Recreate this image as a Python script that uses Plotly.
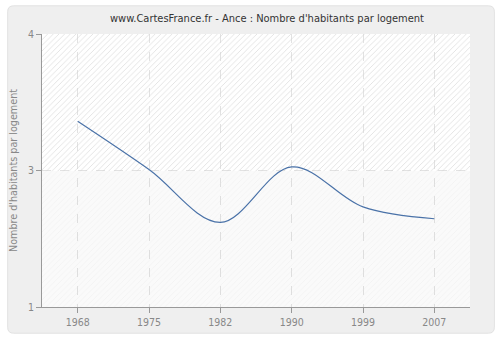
import plotly.graph_objects as go

years = ["1968", "1975", "1982", "1990", "1999", "2007"]
values = [3.04, 2.51, 1.93, 2.54, 2.10, 1.97]
ytick_vals = [1, 2.5, 4]
ytick_text = ["1", "3", "4"]
title = "www.CartesFrance.fr - Ance : Nombre d'habitants par logement"
ytitle = "Nombre d'habitants par logement"

W, H = 500, 340
ML, MR, MT, MB = 40, 30, 34, 30
PW, PH = W - ML - MR, H - MT - MB
FONT = "DejaVu Sans Condensed, DejaVu Sans, Verdana, sans-serif"

def px2paper(x, y):
    return (x - ML) / PW, (H - MB - y) / PH

def rounded_rect(x0, y0, x1, y1, r):
    def P(x, y):
        a, b = px2paper(x, y)
        return f"{a:.5f},{b:.5f}"
    return (f"M {P(x0 + r, y0)} L {P(x1 - r, y0)} Q {P(x1, y0)} {P(x1, y0 + r)} "
            f"L {P(x1, y1 - r)} Q {P(x1, y1)} {P(x1 - r, y1)} L {P(x0 + r, y1)} "
            f"Q {P(x0, y1)} {P(x0, y1 - r)} L {P(x0, y0 + r)} Q {P(x0, y0)} {P(x0 + r, y0)} Z")

idx = list(range(len(years)))
n = len(years)

fig = go.Figure()
# hatched background bands
fig.add_trace(go.Bar(
    x=[(n - 1) / 2], y=[ytick_vals[2] - ytick_vals[1]], base=[ytick_vals[1]], width=[n],
    marker=dict(color="rgba(255,255,255,0)", line=dict(width=0),
                pattern=dict(shape="/", fillmode="overlay", fgcolor="#d0d0d0",
                             fgopacity=0.7, size=4, solidity=0.2)),
    hoverinfo="skip", showlegend=False))
fig.add_trace(go.Bar(
    x=[(n - 1) / 2], y=[ytick_vals[1] - ytick_vals[0]], base=[ytick_vals[0]], width=[n],
    marker=dict(color="rgba(0,0,0,0.018)", line=dict(width=0),
                pattern=dict(shape="/", fillmode="overlay", fgcolor="#e6e6e6",
                             fgopacity=0.4, size=4, solidity=0.2)),
    hoverinfo="skip", showlegend=False))

fig.add_trace(go.Scatter(
    x=idx, y=values, mode="lines",
    line=dict(color="#4a72a8", width=1.2, shape="spline", smoothing=1.0),
    showlegend=False))

fig.update_layout(
    width=W, height=H,
    margin=dict(l=ML, r=MR, t=MT, b=MB),
    paper_bgcolor="#ffffff",
    plot_bgcolor="#ffffff",
    barmode="overlay",
    bargap=0,
    font=dict(family=FONT, size=10, color="#888888"),
    title=dict(text=title, x=267 / W, xanchor="center", y=1 - 18 / H, yanchor="middle",
               font=dict(family=FONT, size=11, color="#333333")),
    shapes=[
        dict(type="path", xref="paper", yref="paper", layer="below",
             path=rounded_rect(5.5, 5.5, 494.5, 336.5, 6),
             fillcolor="#efefef", line=dict(color="#e2e2e2", width=1)),
        dict(type="rect", xref="paper", yref="paper", layer="below",
             x0=0, x1=1, y0=0, y1=1, fillcolor="#ffffff", line=dict(width=0)),
    ],
)
fig.update_xaxes(
    range=[-0.5, n - 0.5], tickmode="array", tickvals=idx, ticktext=years,
    showgrid=True, gridcolor="#e2e2e2", griddash="dash", gridwidth=1,
    showline=True, linecolor="#999999", linewidth=1,
    ticks="outside", ticklen=5, tickcolor="#999999", zeroline=False,
    tickfont=dict(family=FONT, size=10.5, color="#888888"), fixedrange=True)
fig.update_yaxes(
    range=[1, 4], tickmode="array", tickvals=ytick_vals, ticktext=ytick_text,
    showgrid=True, gridcolor="#e2e2e2", griddash="dash", gridwidth=1,
    showline=True, linecolor="#999999", linewidth=1,
    ticks="outside", ticklen=5, tickcolor="#999999", zeroline=False,
    title=dict(text=ytitle, font=dict(family=FONT, size=10.7, color="#888888"), standoff=8),
    tickfont=dict(family=FONT, size=10.5, color="#888888"), fixedrange=True)

fig.write_html("out.html")
